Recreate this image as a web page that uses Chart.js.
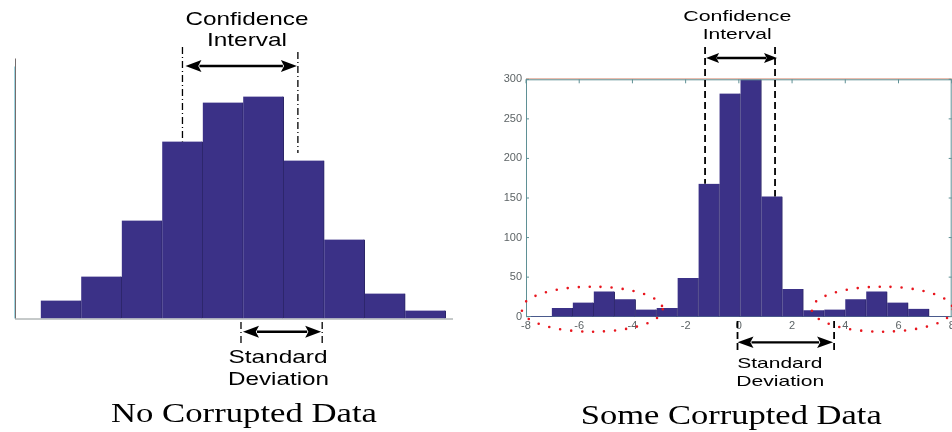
<!DOCTYPE html>
<html>
<head>
<meta charset="utf-8">
<script src="https://cdn.jsdelivr.net/npm/chart.js@4.4.1/dist/chart.umd.min.js"></script>
<style>
    html, body { margin: 0; padding: 0; background: #fff; overflow: hidden; }
    #wrap { position: relative; width: 952px; height: 432px; overflow: hidden; }
    .panel { position: absolute; top: 0; height: 432px; }
    #leftBox { left: 0; width: 476px; }
    #rightBox { left: 476px; width: 500px; }
</style>
</head>
<body>
<div id="wrap">
    <div class="panel" id="leftBox"><canvas id="cleanChart" width="476" height="432"></canvas></div>
    <div class="panel" id="rightBox"><canvas id="noisyChart" width="500" height="432"></canvas></div>
</div>
<script>
/* ======================================
   DATA
====================================== */
// left panel - no corrupted data (bin number, count)
const cleanBins   = [1, 2, 3, 4, 5, 6, 7, 8, 9, 10];
const cleanCounts = [18, 42, 98, 177, 216, 222, 158, 79, 25, 8];

// right panel - some corrupted data (bin centre, count)
const noisyBins   = [-7.426, -6.638, -5.850, -5.062, -4.274, -3.486, -2.698, -1.910, -1.122, -0.334,
                     0.454, 1.242, 2.030, 2.818, 3.606, 4.394, 5.182, 5.970, 6.758, 7.546];
const noisyCounts = [1, 11, 18, 32, 22, 9, 11, 49, 168, 282, 300, 152, 35, 8, 9, 22, 32, 18, 10, 1];
const noisyXTicks = [-8, -6, -4, -2, 0, 2, 4, 6, 8];
const noisyYTicks = [0, 50, 100, 150, 200, 250, 300];

const titles = ["No Corrupted Data", "Some Corrupted Data"];


/* ======================================
   STYLE + DRAW HELPERS
====================================== */
Chart.defaults.font.family = "'Liberation Sans', Arial, sans-serif";
Chart.defaults.animation = false;

const BAR_FILL = "#3b3187";
const BAR_EDGE = "#2b2566";
const AXIS     = "#5f9095";

// text squeezed/stretched to the width it has in the figure
function fitText(ctx, str, cx, y, w, font) {
    ctx.save();
    ctx.font = font;
    const m = ctx.measureText(str).width;
    ctx.translate(cx, y);
    ctx.scale(w / m, 1);
    ctx.textAlign = "center";
    ctx.textBaseline = "alphabetic";
    ctx.fillStyle = "#000";
    ctx.fillText(str, 0, 0);
    ctx.restore();
}

function vDash(ctx, x, y1, y2, dash, lw) {
    ctx.save();
    ctx.strokeStyle = "#000";
    ctx.lineWidth = lw;
    ctx.setLineDash(dash);
    ctx.beginPath();
    ctx.moveTo(x, y1);
    ctx.lineTo(x, y2);
    ctx.stroke();
    ctx.restore();
}

function arrow2(ctx, x1, x2, y, head, half, lw) {
    ctx.save();
    ctx.strokeStyle = "#000";
    ctx.fillStyle = "#000";
    ctx.lineWidth = lw;
    ctx.beginPath();
    ctx.moveTo(x1 + head - 2, y);
    ctx.lineTo(x2 - head + 2, y);
    ctx.stroke();
    ctx.beginPath();
    ctx.moveTo(x1, y);
    ctx.lineTo(x1 + head, y - half);
    ctx.lineTo(x1 + head * 0.8, y);
    ctx.lineTo(x1 + head, y + half);
    ctx.closePath();
    ctx.fill();
    ctx.beginPath();
    ctx.moveTo(x2, y);
    ctx.lineTo(x2 - head, y - half);
    ctx.lineTo(x2 - head * 0.8, y);
    ctx.lineTo(x2 - head, y + half);
    ctx.closePath();
    ctx.fill();
    ctx.restore();
}

function dotEllipse(ctx, cx, cy, rx, ry) {
    ctx.save();
    ctx.strokeStyle = "#e8161e";
    ctx.lineWidth = 2.6;
    ctx.lineCap = "round";
    ctx.setLineDash([0, 11]);
    ctx.beginPath();
    ctx.ellipse(cx, cy, rx, ry, 0, 0, Math.PI * 2);
    ctx.stroke();
    ctx.restore();
}


/* ======================================
   LEFT PANEL DECORATION
====================================== */
const cleanDecor = {
    id: "cleanDecor",
    beforeDatasetsDraw(chart) {
        const { ctx, chartArea: a } = chart;
        ctx.save();
        ctx.lineWidth = 1;
        ctx.strokeStyle = "#9fd6e2";
        ctx.beginPath();
        ctx.moveTo(a.left - 0.5, a.top + 8);
        ctx.lineTo(a.left - 0.5, a.bottom);
        ctx.stroke();
        ctx.strokeStyle = "#756d6d";
        ctx.beginPath();
        ctx.moveTo(a.left + 0.5, a.top);
        ctx.lineTo(a.left + 0.5, a.bottom);
        ctx.stroke();
        ctx.strokeStyle = "#8c9494";
        ctx.beginPath();
        ctx.moveTo(a.left, a.bottom + 0.5);
        ctx.lineTo(a.right, a.bottom + 0.5);
        ctx.stroke();
        ctx.restore();
    },
    afterDraw(chart) {
        const { ctx } = chart;
        const x = chart.scales.x, y = chart.scales.y;

        // confidence interval
        const ciL = x.getPixelForValue(4.0);
        const ciR = x.getPixelForValue(6.85);
        vDash(ctx, ciL, 47, y.getPixelForValue(cleanCounts[3]), [7, 3, 1, 3], 1.3);
        vDash(ctx, ciR, 52, 153, [7, 3, 1, 3], 1.3);
        arrow2(ctx, ciL + 3, ciR - 1, 66, 16, 6, 2.5);
        fitText(ctx, "Confidence", 247, 25, 123, "18.5px 'Liberation Sans'");
        fitText(ctx, "Interval", 247, 46, 80, "18.5px 'Liberation Sans'");

        // standard deviation
        const sdL = x.getPixelForValue(5.445);
        const sdR = x.getPixelForValue(7.45);
        vDash(ctx, sdL, 322, 345, [7, 3, 1, 3], 1.3);
        vDash(ctx, sdR, 322, 345, [7, 3, 1, 3], 1.3);
        arrow2(ctx, sdL + 2, sdR - 1, 331.7, 16, 6, 2.5);
        fitText(ctx, "Standard", 278, 363.3, 99, "18.5px 'Liberation Sans'");
        fitText(ctx, "Deviation", 278.5, 384.5, 101, "18.5px 'Liberation Sans'");

        fitText(ctx, titles[0], 244, 421.7, 266, "28px 'Liberation Serif'");
    }
};


/* ======================================
   RIGHT PANEL DECORATION
====================================== */
const noisyDecor = {
    id: "noisyDecor",
    afterDraw(chart) {
        const { ctx, chartArea: a } = chart;
        const x = chart.scales.x, y = chart.scales.y;

        // box top / right + inward ticks (matlab style)
        ctx.save();
        ctx.lineWidth = 1;
        ctx.strokeStyle = "#e0a28e";
        ctx.beginPath();
        ctx.moveTo(a.left, a.top - 0.5);
        ctx.lineTo(a.right, a.top - 0.5);
        ctx.stroke();
        ctx.strokeStyle = AXIS;
        ctx.beginPath();
        ctx.moveTo(a.left, a.top + 0.5);
        ctx.lineTo(a.right, a.top + 0.5);
        ctx.moveTo(a.right - 0.5, a.top);
        ctx.lineTo(a.right - 0.5, a.bottom);
        ctx.stroke();
        ctx.beginPath();
        noisyYTicks.forEach(v => {
            const py = y.getPixelForValue(v);
            ctx.moveTo(a.left, py);
            ctx.lineTo(a.left + 3, py);
            ctx.moveTo(a.right, py);
            ctx.lineTo(a.right - 3, py);
        });
        noisyXTicks.forEach(v => {
            const px = x.getPixelForValue(v);
            ctx.moveTo(px, a.top);
            ctx.lineTo(px, a.top + 4);
        });
        ctx.stroke();
        ctx.restore();

        // confidence interval
        const ciL = x.getPixelForValue(-1.27);
        const ciR = x.getPixelForValue(1.36);
        vDash(ctx, ciL, 47, y.getPixelForValue(noisyCounts[8]), [7, 4], 1.8);
        vDash(ctx, ciR, 47, y.getPixelForValue(noisyCounts[11]), [7, 4], 1.8);
        arrow2(ctx, ciL + 1, ciR + 2, 58, 13, 5, 2.3);
        fitText(ctx, "Confidence", 261.3, 20.7, 108, "14.5px 'Liberation Sans'");
        fitText(ctx, "Interval", 261.2, 39.3, 69, "14.5px 'Liberation Sans'");

        // standard deviation
        const sdL = x.getPixelForValue(-0.05);
        const sdR = x.getPixelForValue(3.58);
        vDash(ctx, sdL, 321, 350, [7, 4], 1.8);
        vDash(ctx, sdR, 321, 350, [7, 4], 1.8);
        arrow2(ctx, sdL, sdR - 1, 342.3, 16, 5.8, 2.3);
        fitText(ctx, "Standard", 303.8, 368.3, 85, "15px 'Liberation Sans'");
        fitText(ctx, "Deviation", 304.2, 385.7, 88, "15px 'Liberation Sans'");

        // corrupted tails
        dotEllipse(ctx, x.getPixelForValue(-5.51), y.getPixelForValue(9.5), 70.5, 22.5);
        dotEllipse(ctx, x.getPixelForValue(5.39), y.getPixelForValue(9.5), 70.5, 22.5);

        fitText(ctx, titles[1], 255.2, 424, 301, "28px 'Liberation Serif'");
    }
};


/* ======================================
   LEFT CHART
====================================== */
new Chart(document.getElementById("cleanChart"), {
    type: "bar",
    data: {
        datasets: [{
            data: cleanBins.map((b, i) => ({ x: b, y: cleanCounts[i] })),
            backgroundColor: BAR_FILL,
            borderColor: BAR_EDGE,
            borderWidth: { top: 0, left: 0, right: 1, bottom: 0 },
            barPercentage: 1,
            categoryPercentage: 1
        }]
    },
    options: {
        responsive: false,
        layout: { padding: { left: 15, top: 58.5, right: 23, bottom: 113.5 } },
        plugins: { legend: { display: false }, tooltip: { enabled: false } },
        scales: {
            x: {
                type: "linear", display: false, offset: false,
                min: -0.135, max: 10.68,
                grid: { offset: false },
                afterBuildTicks: s => { s.ticks = cleanBins.map(v => ({ value: v })); }
            },
            y: { display: false, min: 0, max: 260 }
        }
    },
    plugins: [cleanDecor]
});


/* ======================================
   RIGHT CHART
====================================== */
new Chart(document.getElementById("noisyChart"), {
    type: "bar",
    data: {
        datasets: [{
            data: noisyBins.map((b, i) => ({ x: b, y: noisyCounts[i] })),
            backgroundColor: BAR_FILL,
            borderColor: BAR_EDGE,
            borderWidth: { top: 0, left: 0, right: 1, bottom: 0 },
            barPercentage: 1,
            categoryPercentage: 1
        }]
    },
    options: {
        responsive: false,
        layout: { padding: { left: 0, top: 79.3, right: 24.3, bottom: 0 } },
        plugins: { legend: { display: false }, tooltip: { enabled: false } },
        scales: {
            x: {
                type: "linear", offset: false,
                min: -8, max: 8,
                grid: { display: false, offset: false, drawTicks: false },
                border: { color: AXIS, width: 1 },
                ticks: { color: "#5d6466", font: { size: 11 }, padding: 3, maxRotation: 0 },
                afterBuildTicks: s => { s.ticks = noisyXTicks.map(v => ({ value: v })); },
                afterFit: s => { s.height = 432 - 316.7; }
            },
            y: {
                min: 0, max: 300,
                grid: { display: false, drawTicks: false },
                border: { color: AXIS, width: 1 },
                ticks: { color: "#5d6466", font: { size: 11 }, padding: 4 },
                afterBuildTicks: s => { s.ticks = noisyYTicks.map(v => ({ value: v })); },
                afterFit: s => { s.width = 50; }
            }
        }
    },
    plugins: [noisyDecor]
});
</script>
</body>
</html>
